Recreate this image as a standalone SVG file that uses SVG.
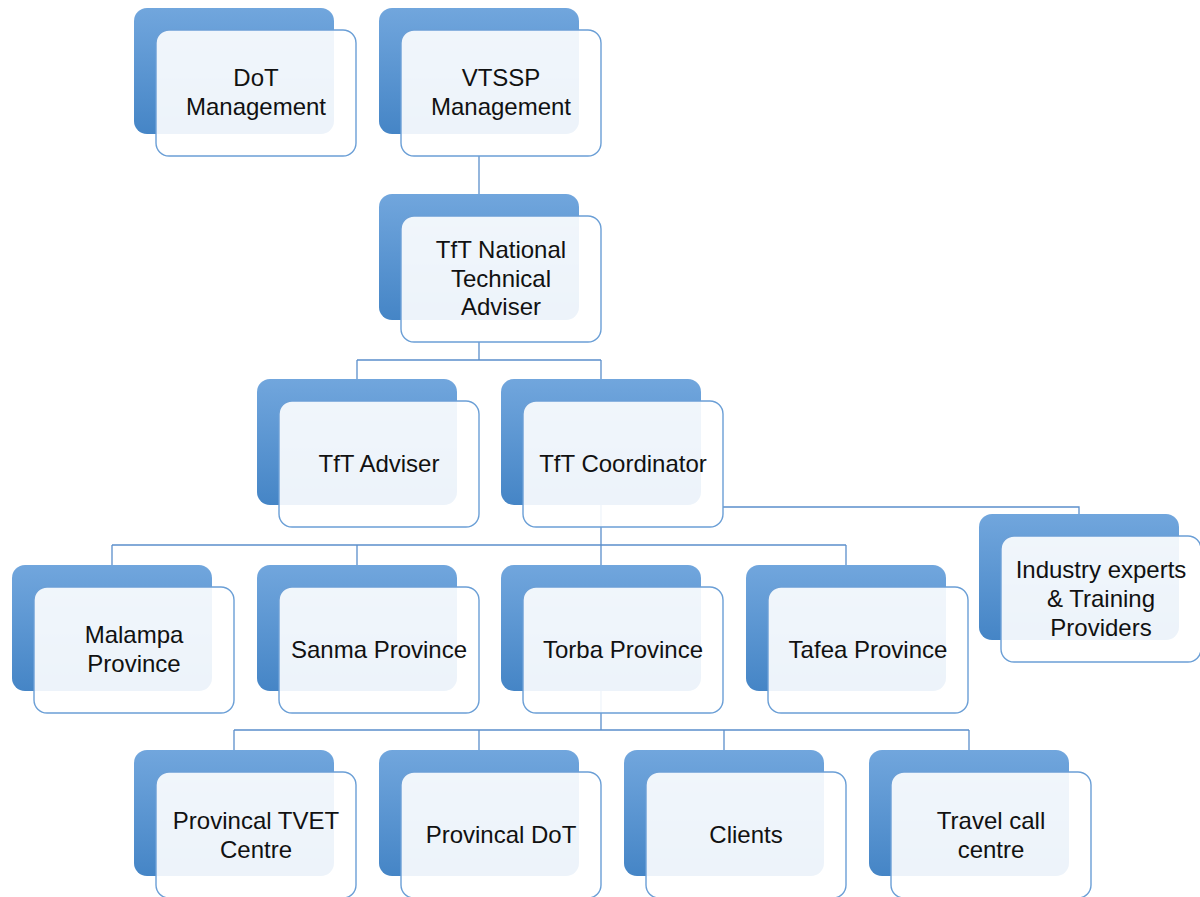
<svg xmlns="http://www.w3.org/2000/svg" width="1200" height="897" viewBox="0 0 1200 897">
<defs>
<linearGradient id="bg" x1="0" y1="0" x2="0" y2="1">
<stop offset="0" stop-color="#71a6dd"/>
<stop offset="1" stop-color="#4585c6"/>
</linearGradient>
<style>
.b{fill:url(#bg);}
.f{fill:#ffffff;fill-opacity:0.9;stroke:#6b9fd6;stroke-width:1.4;}
.c{fill:none;stroke:#5b8fcb;stroke-width:1.3;}
text{font-family:"Liberation Sans",Arial,sans-serif;font-size:24px;fill:#111;text-anchor:middle;}
</style>
</defs>
<rect width="1200" height="897" fill="#fff"/>
<g id="connectors">
<path class="c" d="M479 156V194"/>
<path class="c" d="M479 342V360M357 360H601M357 360V379M601 360V379"/>
<path class="c" d="M601 505V545M112 545H846M112 545V565M357 545V565M601 545V565M846 545V565"/>
<path class="c" d="M723 507H1079V514"/>
<path class="c" d="M601 691V730M234 730H969M234 730V750M479 730V750M724 730V750M969 730V750"/>
</g>
<g id="n-dot"><rect class="b" x="134" y="8" width="200" height="126" rx="13"/><rect class="f" x="156" y="30" width="200" height="126" rx="13"/><text x="256" y="86">DoT</text><text x="256" y="115">Management</text></g>
<g id="n-vtssp"><rect class="b" x="379" y="8" width="200" height="126" rx="13"/><rect class="f" x="401" y="30" width="200" height="126" rx="13"/><text x="501" y="86">VTSSP</text><text x="501" y="115">Management</text></g>
<g id="n-national"><rect class="b" x="379" y="194" width="200" height="126" rx="13"/><rect class="f" x="401" y="216" width="200" height="126" rx="13"/><text x="501" y="258">TfT National</text><text x="501" y="287">Technical</text><text x="501" y="315">Adviser</text></g>
<g id="n-adviser"><rect class="b" x="257" y="379" width="200" height="126" rx="13"/><rect class="f" x="279" y="401" width="200" height="126" rx="13"/><text x="379" y="472">TfT Adviser</text></g>
<g id="n-coord"><rect class="b" x="501" y="379" width="200" height="126" rx="13"/><rect class="f" x="523" y="401" width="200" height="126" rx="13"/><text x="623" y="472">TfT Coordinator</text></g>
<g id="n-industry"><rect class="b" x="979" y="514" width="200" height="126" rx="13"/><rect class="f" x="1001" y="536" width="200" height="126" rx="13"/><text x="1101" y="578">Industry experts</text><text x="1101" y="607">&amp; Training</text><text x="1101" y="636">Providers</text></g>
<g id="n-malampa"><rect class="b" x="12" y="565" width="200" height="126" rx="13"/><rect class="f" x="34" y="587" width="200" height="126" rx="13"/><text x="134" y="643">Malampa</text><text x="134" y="672">Province</text></g>
<g id="n-sanma"><rect class="b" x="257" y="565" width="200" height="126" rx="13"/><rect class="f" x="279" y="587" width="200" height="126" rx="13"/><text x="379" y="658">Sanma Province</text></g>
<g id="n-torba"><rect class="b" x="501" y="565" width="200" height="126" rx="13"/><rect class="f" x="523" y="587" width="200" height="126" rx="13"/><text x="623" y="658">Torba Province</text></g>
<g id="n-tafea"><rect class="b" x="746" y="565" width="200" height="126" rx="13"/><rect class="f" x="768" y="587" width="200" height="126" rx="13"/><text x="868" y="658">Tafea Province</text></g>
<g id="n-tvet"><rect class="b" x="134" y="750" width="200" height="126" rx="13"/><rect class="f" x="156" y="772" width="200" height="126" rx="13"/><text x="256" y="829">Provincal TVET</text><text x="256" y="858">Centre</text></g>
<g id="n-pdot"><rect class="b" x="379" y="750" width="200" height="126" rx="13"/><rect class="f" x="401" y="772" width="200" height="126" rx="13"/><text x="501" y="843">Provincal DoT</text></g>
<g id="n-clients"><rect class="b" x="624" y="750" width="200" height="126" rx="13"/><rect class="f" x="646" y="772" width="200" height="126" rx="13"/><text x="746" y="843">Clients</text></g>
<g id="n-travel"><rect class="b" x="869" y="750" width="200" height="126" rx="13"/><rect class="f" x="891" y="772" width="200" height="126" rx="13"/><text x="991" y="829">Travel call</text><text x="991" y="858">centre</text></g>
</svg>
